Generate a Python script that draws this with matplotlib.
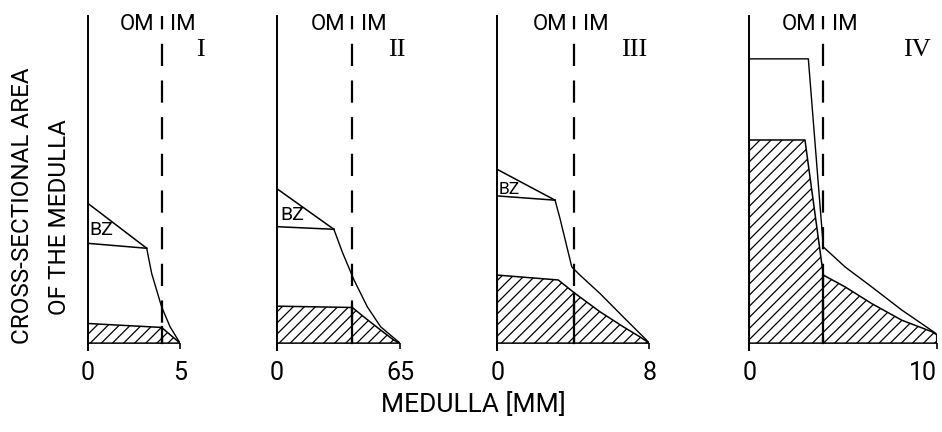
import numpy as np
import matplotlib
matplotlib.use("Agg")
import matplotlib.pyplot as plt

plt.rcParams['font.family'] = ['Roboto', 'DejaVu Sans']
plt.rcParams['hatch.linewidth'] = 0.9

# panel data (x in mm along the medulla, y = relative cross-sectional area)
panel_names = ["I", "II", "III", "IV"]
x_max = [5, 6.5, 8, 10]
x_tick_labels = ["5", "65", "8", "10"]
om_im_border = [4.0, 3.99, 4.05, 3.95]

# BZ wedge (panels I-III only)
bz_x = [[0, 3.19], [0, 3.02], [0, 3.04]]
bz_top_y = [[42.7, 29.0], [47.3, 34.8], [53.1, 43.7]]
bz_bottom_y = [[30.5, 29.0], [35.6, 34.8], [45.0, 43.7]]

# outer outline of the medulla
outline_x = [
    [3.19, 3.46, 4.0, 4.46, 5.0],
    [3.02, 3.46, 4.08, 4.78, 5.48, 6.5],
    [3.04, 3.3, 3.92, 4.35, 5.4, 6.63, 7.86, 8.0],
    [0, 3.15, 3.95, 5.11, 6.53, 8.14, 9.9, 10.0, 10.0],
]
outline_y = [
    [29.0, 21.3, 11.1, 5.0, 0],
    [34.8, 27.9, 19.3, 11.1, 5.0, 0],
    [43.7, 38.1, 23.3, 20.8, 15.2, 8.0, 0.9, 0],
    [86.9, 86.9, 29.4, 23.3, 17.2, 10.1, 3.2, 2.6, 0],
]

# hatched part
hatch_x = [
    [0, 4.0, 5.0],
    [0, 3.99, 4.6, 5.48, 6.18, 6.5],
    [0, 3.21, 4.09, 5.4, 6.63, 7.51, 8.0],
    [0, 2.97, 3.95, 5.11, 6.53, 8.14, 9.74, 10.0, 10.0],
]
hatch_y = [
    [6.0, 4.8, 0],
    [11.3, 10.9, 8.0, 4.0, 0.9, 0],
    [20.8, 19.3, 15.2, 9.6, 5.0, 1.9, 0],
    [62.1, 62.1, 20.8, 17.2, 12.1, 7.0, 3.5, 2.6, 0],
]

# layout (pixels of a 942x432 figure)
FIG_W, FIG_H = 942, 432
ax_left_px = [88, 276.5, 497.3, 749.3]
ax_right_px = [180, 400, 649.3, 936.7]
ax_top_px = 16
ax_bottom_px = 350
roman_pos = [(6.09, 89.5), (6.33, 89.5), (7.19, 89.5), (8.95, 89.5)]
bz_pos = [(0.1, 34.6), (0.2, 39.1), (0.05, 47.1)]


def draw_panel(fig, i):
    l = ax_left_px[i] / FIG_W
    w = (ax_right_px[i] - ax_left_px[i]) / FIG_W
    b = (FIG_H - ax_bottom_px) / FIG_H
    h = (ax_bottom_px - ax_top_px) / FIG_H
    ax = fig.add_axes([l, b, w, h])
    ax.set_xlim(0, x_max[i])
    ax.set_ylim(-2.1, 100)

    # hatched area
    ax.fill_between(hatch_x[i], hatch_y[i], 0, facecolor='white',
                    edgecolor='black', hatch='///', linewidth=1.1)

    # BZ wedge
    if i < len(bz_x):
        ax.plot(bz_x[i], bz_top_y[i], color='black', lw=1.1)
        ax.plot(bz_x[i], bz_bottom_y[i], color='black', lw=1.1)
        ax.text(bz_pos[i][0], bz_pos[i][1], "BZ", fontsize=14 if i < 2 else 12.5,
                ha='left', va='center')

    ax.plot(outline_x[i], outline_y[i], color='black', lw=1.0)

    # OM | IM border
    bx = om_im_border[i]
    ax.plot([bx, bx], [100, 0], color='black', lw=1.6,
            linestyle=(4, (10, 6.5)))
    hb = np.interp(bx, hatch_x[i], hatch_y[i])
    ax.plot([bx, bx], [hb, 0], color='black', lw=1.6)

    ax.annotate("OM", (bx, 97.5), xytext=(-5, 0), textcoords='offset points',
                ha='right', va='center', fontsize=16)
    ax.annotate("IM", (bx, 97.5), xytext=(6, 0), textcoords='offset points',
                ha='left', va='center', fontsize=16)
    ax.text(roman_pos[i][0], roman_pos[i][1], panel_names[i],
            family='Liberation Serif', fontsize=19, ha='center', va='center')

    for s in ['top', 'right']:
        ax.spines[s].set_visible(False)
    ax.spines['bottom'].set_position(('data', 0))
    ax.spines['bottom'].set_visible(False)
    ax.spines['left'].set_linewidth(1.4)
    ax.set_yticks([])
    ax.set_xticks([0, x_max[i]])
    labels = ax.set_xticklabels(["0", x_tick_labels[i]])
    ax.tick_params(axis='x', length=4, width=1.2, pad=9, labelsize=18)
    if i == len(panel_names) - 1:
        # keep the last label inside the figure
        labels[-1].set_horizontalalignment('right')
        labels[-1].set_x(x_max[i])
    ax.patch.set_visible(False)
    return ax


def main():
    fig = plt.figure(figsize=(FIG_W / 100, FIG_H / 100), dpi=100)
    for i in range(len(panel_names)):
        draw_panel(fig, i)

    fig.text(22.5 / FIG_W, 1 - 206 / FIG_H, "CROSS-SECTIONAL AREA",
             rotation=90, ha='center', va='center', fontsize=17.5)
    fig.text(60 / FIG_W, 1 - 217 / FIG_H, "OF THE MEDULLA",
             rotation=90, ha='center', va='center', fontsize=17.5)
    fig.text(473 / FIG_W, 1 - 405 / FIG_H, "MEDULLA [MM]",
             ha='center', va='center', fontsize=19)

    fig.savefig("out.png", dpi=100)


if __name__ == "__main__":
    main()
